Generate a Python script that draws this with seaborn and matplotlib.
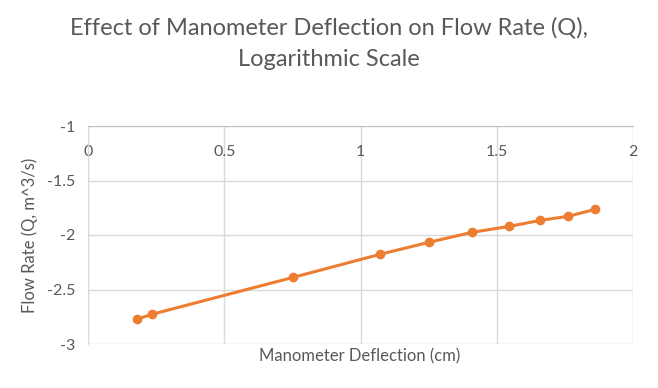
import matplotlib
matplotlib.use("Agg")
import matplotlib.pyplot as plt
import seaborn as sns
import pandas as pd

deflection_cm = [0.18, 0.235, 0.754, 1.072, 1.251, 1.410, 1.546, 1.659, 1.761, 1.861]
log_flow = [-2.773, -2.727, -2.388, -2.177, -2.067, -1.975, -1.921, -1.866, -1.829, -1.765]
x_ticks = [0, 0.5, 1, 1.5, 2]
y_ticks = [-1, -1.5, -2, -2.5, -3]

sns.set_style("white")
plt.rcParams['font.family'] = ['Lato', 'DejaVu Sans']
plt.rcParams['axes.unicode_minus'] = False

df = pd.DataFrame({"x": deflection_cm, "y": log_flow})

fig = plt.figure(figsize=(6.58, 3.88), dpi=100)
ax = fig.add_axes([88/658, 1-344/388, (633-88)/658, (344-126)/388])

orange = "#ED7D31"
sns.lineplot(data=df, x="x", y="y", ax=ax, color=orange, linewidth=2.2,
             marker="o", markersize=7, markeredgewidth=0, markerfacecolor=orange)

ax.set_xlim(0, 2)
ax.set_ylim(-3, -1)
ax.set_xticks(x_ticks)
ax.set_xticklabels([f"{t:g}" for t in x_ticks])
ax.set_yticks(y_ticks)
ax.set_yticklabels([f"{t:g}" for t in y_ticks])
ax.grid(True, color="#d9d9d9", linewidth=1)
for s in ax.spines.values():
    s.set_visible(False)
ax.spines['top'].set_visible(True)
ax.spines['top'].set_color("#bfbfbf")
ax.spines['left'].set_visible(True)
ax.spines['left'].set_color("#d9d9d9")

ax.xaxis.tick_top()
ax.tick_params(axis='x', length=0, pad=-24, labelsize=11.5, labelcolor="#595959")
ax.tick_params(axis='y', length=0, pad=9, labelsize=11.5, labelcolor="#595959")

ax.set_xlabel("")
ax.set_ylabel("")
fig.text(360/658, 1-356/388, "Manometer Deflection (cm)", ha="center", va="center",
         fontsize=12, color="#595959")
fig.text(30/658, 1-235/388, "Flow Rate (Q, m^3/s)", ha="center", va="center",
         rotation=90, fontsize=12, color="#595959")
fig.text(0.5, 1-28/388, "Effect of Manometer Deflection on Flow Rate (Q),", ha="center",
         va="center", fontsize=17, color="#595959")
fig.text(0.5, 1-60/388, "Logarithmic Scale", ha="center", va="center",
         fontsize=17, color="#595959")

fig.savefig("out.png", dpi=100)
